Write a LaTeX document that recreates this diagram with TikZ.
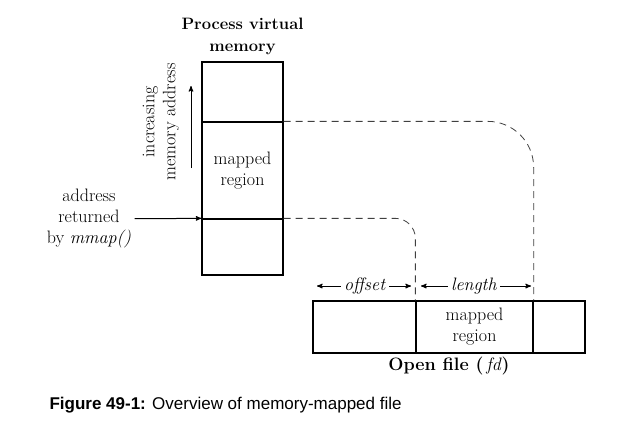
\documentclass[tikz,border=0pt]{standalone}
\usepackage{fontspec}
\newfontfamily\capfont{Liberation Sans}
\usetikzlibrary{arrows}

\begin{document}
\begin{tikzpicture}[x=1pt,y=-1pt,>=stealth',
  every node/.style={font=\fontsize{18}{21}\selectfont},
  seg/.style={draw,line width=1.3pt,inner sep=0pt,align=center},
  map/.style={dash pattern=on 7pt off 5pt,line width=0.8pt,black!75},
  dim/.style={->,line width=1pt}]
\useasboundingbox (0,0) rectangle (624,429);
% process virtual memory
\node[seg,minimum width=81pt,minimum height=60pt] (v1) at (242.5,92) {};
\node[seg,minimum width=81pt,minimum height=97pt] (v2) at (242.5,170.5) {mapped\\region};
\node[seg,minimum width=81pt,minimum height=56pt] (v3) at (242.5,247) {};
\node[align=center,font=\fontsize{16.5}{22}\selectfont\bfseries] (title) at (242.5,36) {Process virtual\\memory};
% open file
\node[seg,minimum width=103pt,minimum height=52pt] (f1) at (364.5,327) {};
\node[seg,minimum width=117pt,minimum height=52pt] (f2) at (474.5,327) {mapped\\region};
\node[seg,minimum width=52pt,minimum height=52pt] (f3) at (559,327) {};
\node (file) at (449,366) {\textbf{Open file (}\,\textit{fd}\textbf{)}};
% mapping
\draw[map,rounded corners=46pt] (v2.north east) -| (f2.north east);
\draw[map,rounded corners=20pt] (v3.north east) -| (f2.north west);
% offset and length
\node (off) at (365,286) {\textit{offset}};
\coordinate (o1) at (317,286);
\coordinate (o2) at (411,286);
\draw[dim] (off) -- (o1);
\draw[dim] (off) -- (o2);
\node (len) at (474,286) {\textit{length}};
\coordinate (l1) at (421,286);
\coordinate (l2) at (531,286);
\draw[dim] (len) -- (l1);
\draw[dim] (len) -- (l2);
% address direction
\node[rotate=90,align=center] (inc) at (161,122) {increasing\\memory address};
\coordinate (i1) at (191,168);
\coordinate (i2) at (191,86);
\draw[dim] (i1) -- (i2);
\node[align=center] (addr) at (89,219) {address\\returned\\by \textit{mmap()}};
\draw[dim] (addr) -- (v3.north west);
% caption
\node[anchor=west,font=\capfont\fontsize{17}{20}\selectfont] (cap) at (46,405) {\textbf{Figure 49-1:} Overview of memory-mapped file};
\end{tikzpicture}
\end{document}
